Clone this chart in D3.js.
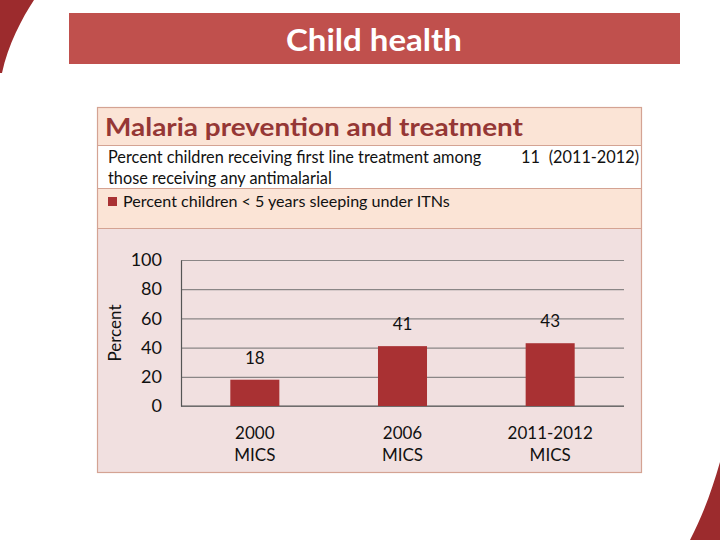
<!DOCTYPE html>
<html><head><meta charset="utf-8">
<script src="https://cdn.jsdelivr.net/npm/d3@7"></script>
<style>html,body{margin:0;padding:0;background:#fff;}svg{display:block;}</style>
</head><body>
<svg id="c" width="720" height="540"></svg>
<script>
const slideTitle = "Child health";
const panelTitle = "Malaria prevention and treatment";
const indicatorLines = ["Percent children receiving first line treatment among", "those receiving any antimalarial"];
const indicatorValue = "11";
const indicatorPeriod = "(2011-2012)";
const seriesName = "Percent children < 5 years sleeping under ITNs";
const categoryYears = ["2000", "2006", "2011-2012"];
const categorySurvey = ["MICS", "MICS", "MICS"];
const itnValues = [18, 41, 43];
const yTicks = [0, 20, 40, 60, 80, 100];
const yLabel = "Percent";

const FONT = "Lato, 'Open Sans', sans-serif";
const svg = d3.select("#c");

// decorative corners
svg.append("path").attr("d", "M0,0 L34,0 C22,18 8,45 2,73 L0,73 Z").attr("fill", "#9c2b2d");
svg.append("path").attr("d", "M720,462 C712,490 703,515 690,540 L720,540 Z").attr("fill", "#9c2b2d");

// title bar
svg.append("rect").attr("x", 69).attr("y", 13).attr("width", 611).attr("height", 51).attr("fill", "#c0504d");
svg.append("text").attr("x", 374).attr("y", 51).attr("text-anchor", "middle")
  .attr("font-family", FONT).attr("font-weight", "bold").attr("font-size", 31).attr("fill", "#fff")
  .attr("textLength", 176).attr("lengthAdjust", "spacingAndGlyphs")
  .text(slideTitle);

// panel
const P = {x: 97.5, y: 107.5, w: 544, h: 365};
const border = "#d4a393";
svg.append("rect").attr("x", P.x).attr("y", P.y).attr("width", P.w).attr("height", 38).attr("fill", "#fbe4d6");
svg.append("rect").attr("x", P.x).attr("y", 145.5).attr("width", P.w).attr("height", 43).attr("fill", "#ffffff");
svg.append("rect").attr("x", P.x).attr("y", 188.5).attr("width", P.w).attr("height", 40).attr("fill", "#fbe4d6");
svg.append("rect").attr("x", P.x).attr("y", 228.5).attr("width", P.w).attr("height", P.y + P.h - 228.5).attr("fill", "#f1e0e0");
[145.5, 188.5, 228.5].forEach(y => svg.append("line").attr("x1", P.x).attr("x2", P.x + P.w).attr("y1", y).attr("y2", y).attr("stroke", border).attr("stroke-width", 1));
svg.append("rect").attr("x", P.x).attr("y", P.y).attr("width", P.w).attr("height", P.h).attr("fill", "none").attr("stroke", border).attr("stroke-width", 1.2);

svg.append("text").attr("x", 105).attr("y", 136).attr("font-family", FONT).attr("font-weight", "bold")
  .attr("font-size", 25).attr("fill", "#953735").attr("textLength", 418).attr("lengthAdjust", "spacingAndGlyphs").text(panelTitle);

indicatorLines.forEach((t, i) => {
  svg.append("text").attr("x", 108).attr("y", 163 + i * 21).attr("font-family", FONT).attr("font-size", 16.3).attr("fill", "#111").text(t);
});
svg.append("text").attr("x", 540).attr("y", 163).attr("text-anchor", "end").attr("font-family", FONT).attr("font-size", 16.3).attr("fill", "#111").text(indicatorValue);
svg.append("text").attr("x", 639).attr("y", 163).attr("text-anchor", "end").attr("font-family", FONT).attr("font-size", 16.3).attr("fill", "#111").text(indicatorPeriod);

svg.append("rect").attr("x", 108).attr("y", 197).attr("width", 9).attr("height", 9).attr("fill", "#a93133");
svg.append("text").attr("x", 123).attr("y", 207).attr("font-family", FONT).attr("font-size", 16.1).attr("fill", "#111").text(seriesName);

// chart
const X0 = 181, X1 = 624, Y0 = 406, Y1 = 260;
const x = d3.scaleBand().domain(categoryYears).range([X0, X1]).paddingInner(0.668).paddingOuter(0.334);
const y = d3.scaleLinear().domain([0, 100]).range([Y0, Y1]);

const grid = svg.append("g").attr("transform", `translate(${X0},0)`)
  .call(d3.axisLeft(y).tickValues(yTicks).tickSize(-(X1 - X0)).tickFormat(""));
grid.select(".domain").remove();
grid.selectAll(".tick line").attr("stroke", "#8a8686").attr("stroke-width", 1.2);

const yAx = svg.append("g").attr("transform", `translate(${X0},0)`)
  .call(d3.axisLeft(y).tickValues(yTicks).tickSize(0).tickPadding(19));
yAx.select(".domain").attr("stroke", "#555").attr("stroke-width", 1.2);
yAx.selectAll("text").attr("font-family", FONT).attr("font-size", 18).attr("fill", "#111");

svg.append("line").attr("x1", X0).attr("x2", X1).attr("y1", Y0).attr("y2", Y0).attr("stroke", "#555").attr("stroke-width", 1.2);

svg.selectAll(".bar").data(itnValues).join("rect").attr("class", "bar")
  .attr("x", (d, i) => x(categoryYears[i])).attr("width", x.bandwidth())
  .attr("y", d => y(d)).attr("height", d => Y0 - y(d)).attr("fill", "#a93133");

svg.selectAll(".vl").data(itnValues).join("text").attr("class", "vl")
  .attr("x", (d, i) => x(categoryYears[i]) + x.bandwidth() / 2).attr("y", d => y(d) - 16)
  .attr("text-anchor", "middle").attr("font-family", FONT).attr("font-size", 17).attr("fill", "#111").text(d => d);

const xAx = svg.append("g").attr("transform", `translate(0,${Y0})`)
  .call(d3.axisBottom(x).tickSize(0).tickFormat(""));
xAx.select(".domain").remove();
categoryYears.forEach((c, i) => {
  const cx = x(c) + x.bandwidth() / 2;
  const t = svg.append("text").attr("x", cx).attr("text-anchor", "middle").attr("font-family", FONT).attr("font-size", 17).attr("fill", "#111");
  t.append("tspan").attr("x", cx).attr("y", 439).text(c);
  t.append("tspan").attr("x", cx).attr("y", 461).text(categorySurvey[i]);
});

svg.append("text").attr("transform", `translate(121,333) rotate(-90)`).attr("text-anchor", "middle")
  .attr("font-family", FONT).attr("font-size", 17).attr("fill", "#111").text(yLabel);
</script>
</body></html>
